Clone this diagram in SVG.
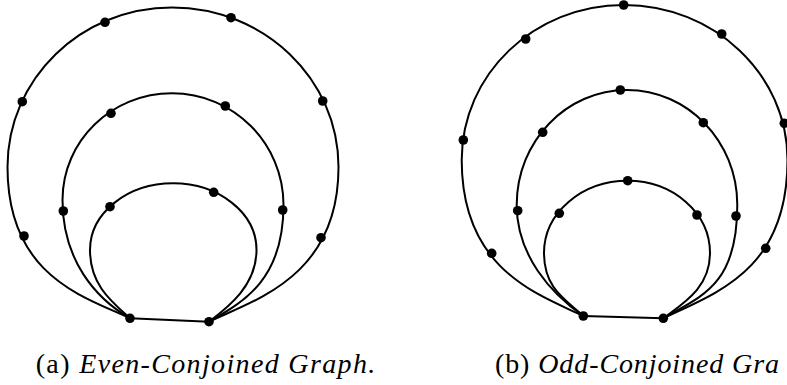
<svg xmlns="http://www.w3.org/2000/svg" width="787" height="385" viewBox="0 0 787 385">
<style>
.e{fill:none;stroke:#000;stroke-width:2;stroke-linecap:round}
.v{fill:#000}
.cap{font-family:"Liberation Serif","Times New Roman",serif;font-size:28px;fill:#000;letter-spacing:1.35px}
.capb{letter-spacing:0.9px}
.it{font-style:italic}
</style>
<rect width="787" height="385" fill="#fff"/>
<g id="connectors">
<!-- graph (a) -->
<path class="e" d="M130,318.3 L209,321.7"/>
<path class="e" d="M130,318.3 C85,296.8 7.5,277 7.5,167 C7.5,78.9 81.1,7.5 172,7.5 C264,7.5 338.5,78.9 338.5,167 C338.5,277 254,300.2 209,321.7"/>
<path class="e" d="M130,318.3 C95.4,298.3 62.5,260 62.5,200 C62.5,141.1 111.5,93.3 172,93.3 C233.6,93.3 283.5,143.3 283.5,205 C283.5,280 243.6,301.7 209,321.7"/>
<path class="e" d="M130,318.3 C111.5,301.6 90,285 90,250 C90,213.2 127.2,183.3 173,183.3 C219.1,183.3 256.5,213.2 256.5,250 C256.5,285 229,306.7 209,321.7"/>
<!-- graph (b) -->
<path class="e" d="M583.3,316 L663.3,318.3"/>
<path class="e" d="M583.3,316 C538.3,294.5 461.7,270 461.7,160 C461.7,74.4 534.2,5 623.7,5 C714.2,5 787.5,74.4 787.5,160 C787.5,270 717.3,292.5 663.3,318.3"/>
<path class="e" d="M583.3,316 C550.5,293.2 516.7,255 516.7,205 C516.7,141.5 566.1,90 627,90 C687.9,90 737.3,141.5 737.3,205 C737.3,285 702.2,295.8 663.3,318.3"/>
<path class="e" d="M583.3,316 C564.8,299.25 544,288 544,253 C544,213.1 581.5,180.7 627.7,180.7 C673.2,180.7 710,213.1 710,253 C710,288 683.3,303.3 663.3,318.3"/>
</g>
<g id="a-b1"><circle class="v" cx="130" cy="318.3" r="4.8"/></g>
<g id="a-b2"><circle class="v" cx="209" cy="321.7" r="4.8"/></g>
<g id="a-o1"><circle class="v" cx="105" cy="22.3" r="4.8"/></g>
<g id="a-o2"><circle class="v" cx="231" cy="17.7" r="4.8"/></g>
<g id="a-o3"><circle class="v" cx="22.3" cy="101.7" r="4.8"/></g>
<g id="a-o4"><circle class="v" cx="322.7" cy="101" r="4.8"/></g>
<g id="a-o5"><circle class="v" cx="24" cy="236" r="4.8"/></g>
<g id="a-o6"><circle class="v" cx="321" cy="237.7" r="4.8"/></g>
<g id="a-m1"><circle class="v" cx="111" cy="113.3" r="4.8"/></g>
<g id="a-m2"><circle class="v" cx="225.3" cy="106" r="4.8"/></g>
<g id="a-m3"><circle class="v" cx="63.3" cy="211" r="4.8"/></g>
<g id="a-m4"><circle class="v" cx="282.7" cy="210" r="4.8"/></g>
<g id="a-i1"><circle class="v" cx="110" cy="206.7" r="4.8"/></g>
<g id="a-i2"><circle class="v" cx="213.7" cy="192.3" r="4.8"/></g>
<g id="b-b1"><circle class="v" cx="583.3" cy="316" r="4.8"/></g>
<g id="b-b2"><circle class="v" cx="663.3" cy="318.3" r="4.8"/></g>
<g id="b-o1"><circle class="v" cx="623.7" cy="5" r="4.8"/></g>
<g id="b-o2"><circle class="v" cx="525.7" cy="39" r="4.8"/></g>
<g id="b-o3"><circle class="v" cx="721.7" cy="34" r="4.8"/></g>
<g id="b-o4"><circle class="v" cx="463.3" cy="140" r="4.8"/></g>
<g id="b-o5"><circle class="v" cx="784.3" cy="123.3" r="4.8"/></g>
<g id="b-o6"><circle class="v" cx="491.7" cy="253.3" r="4.8"/></g>
<g id="b-o7"><circle class="v" cx="765.7" cy="248.3" r="4.8"/></g>
<g id="b-m1"><circle class="v" cx="620.3" cy="90" r="4.8"/></g>
<g id="b-m2"><circle class="v" cx="542.7" cy="132.3" r="4.8"/></g>
<g id="b-m3"><circle class="v" cx="703.3" cy="122.7" r="4.8"/></g>
<g id="b-m4"><circle class="v" cx="517.7" cy="210.7" r="4.8"/></g>
<g id="b-m5"><circle class="v" cx="736" cy="216" r="4.8"/></g>
<g id="b-i1"><circle class="v" cx="627.7" cy="180.7" r="4.8"/></g>
<g id="b-i2"><circle class="v" cx="559.3" cy="213.3" r="4.8"/></g>
<g id="b-i3"><circle class="v" cx="697" cy="215" r="4.8"/></g>
<g id="caption-a"><text class="cap" x="35.7" y="373.3">(a) <tspan class="it">Even-Conjoined Graph.</tspan></text></g>
<g id="caption-b"><text class="cap capb" x="495" y="373.3">(b) <tspan class="it">Odd-Conjoined Gra</tspan></text></g>
</svg>
